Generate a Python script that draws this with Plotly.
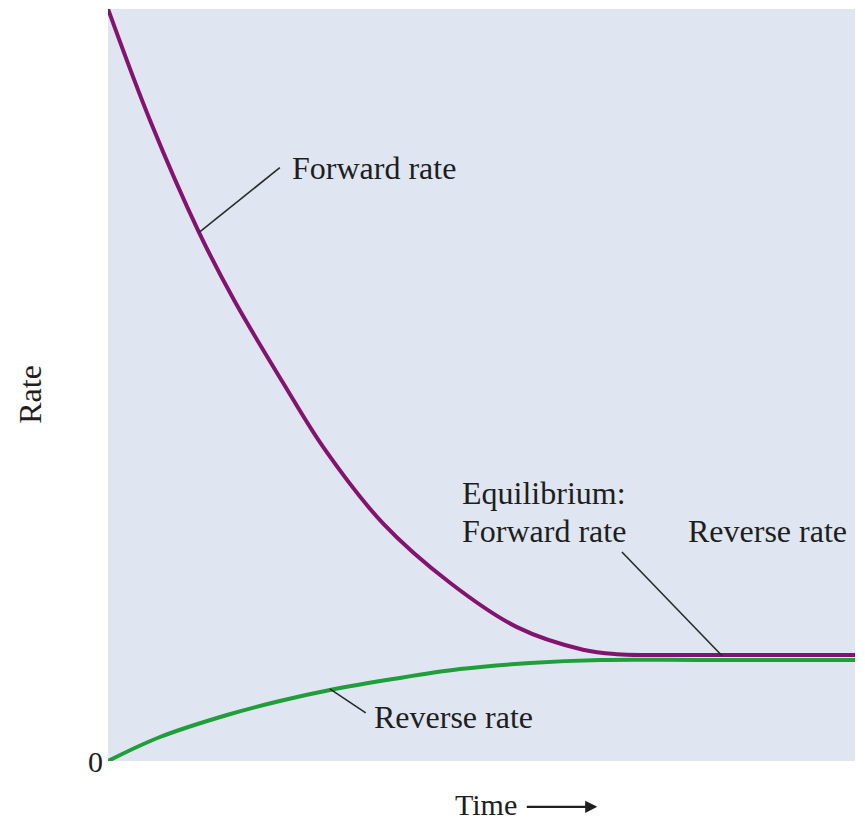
import plotly.graph_objects as go

# Time (arbitrary units) and rates
forward_time = [0.0, 0.562, 1.218, 1.687, 2.343, 2.905, 3.681, 4.578, 5.475, 6.359, 6.814, 7.256, 8.5, 10.0]
forward_rate = [10.0, 8.52, 7.03, 6.13, 5.03, 4.14, 3.16, 2.37, 1.78, 1.48, 1.42, 1.41, 1.41, 1.41]

reverse_time = [0.0, 0.696, 1.593, 2.30, 2.972, 3.815, 4.712, 5.649, 6.586, 8.0, 10.0]
reverse_rate = [0.0, 0.319, 0.612, 0.798, 0.944, 1.090, 1.223, 1.303, 1.343, 1.343, 1.343]

y_tick_vals = [0]
y_tick_text = ["0"]

FONT = "Liberation Serif"
TXT = "#1e1e1e"

fig = go.Figure()
fig.add_trace(go.Scatter(x=reverse_time, y=reverse_rate, mode="lines",
                         line=dict(color="#1f9e3a", width=4, shape="spline", smoothing=1.0),
                         hoverinfo="skip", showlegend=False))
fig.add_trace(go.Scatter(x=forward_time, y=forward_rate, mode="lines",
                         line=dict(color="#82136f", width=4, shape="spline", smoothing=1.0),
                         hoverinfo="skip", showlegend=False))

# pointer lines
pointers = [
    (1.22, 7.03, 2.30, 7.89),
    (6.88, 2.78, 8.22, 1.40),
    (2.97, 0.96, 3.45, 0.64),
]
for x0, y0, x1, y1 in pointers:
    fig.add_shape(type="line", x0=x0, y0=y0, x1=x1, y1=y1, xref="x", yref="y",
                  line=dict(color="#2a2a2a", width=1.6))

labels = [
    ("Forward rate", 2.44, 7.89),
    ("Equilibrium:", 4.71, 3.56),
    ("Forward rate", 4.71, 3.06),
    ("Reverse rate", 7.74, 3.06),
    ("Reverse rate", 3.53, 0.585),
]
for text, x, y in labels:
    fig.add_annotation(x=x, y=y, xref="x", yref="y", text=text, showarrow=False,
                       xanchor="left", yanchor="middle",
                       font=dict(family=FONT, size=32, color=TXT))

# axis titles
fig.add_annotation(x=0.506, y=-0.0585, xref="paper", yref="paper", text="Time",
                   showarrow=False, xanchor="center", yanchor="middle",
                   font=dict(family=FONT, size=30, color=TXT))
fig.add_annotation(x=-0.1044, y=0.487, xref="paper", yref="paper", text="Rate",
                   showarrow=False, xanchor="center", yanchor="middle", textangle=-90,
                   font=dict(family=FONT, size=32, color=TXT))
# arrow next to "Time"
fig.add_annotation(x=0.655, y=-0.061, xref="paper", yref="paper",
                   axref="pixel", ayref="pixel", ax=-72, ay=0, text="", showarrow=True,
                   arrowhead=2, arrowsize=1.1, arrowwidth=2.2, arrowcolor=TXT)

fig.update_layout(
    width=865, height=822,
    margin=dict(l=108, r=10, t=9, b=61),
    paper_bgcolor="white",
    plot_bgcolor="#dfe6f1",
    font=dict(family=FONT, color=TXT),
    xaxis=dict(range=[0, 10], showgrid=False, zeroline=False, showticklabels=False,
               ticks="", showline=False, automargin=False),
    yaxis=dict(range=[0, 10], showgrid=False, zeroline=False, tickvals=y_tick_vals,
               ticktext=y_tick_text, ticks="", showline=False, automargin=False,
               ticklabelstandoff=4,
               tickfont=dict(family=FONT, size=30, color=TXT)),
)

fig.write_html("out.html", config={"displayModeBar": False},
               post_script="document.body.style.margin='0';document.body.style.overflow='hidden';")
